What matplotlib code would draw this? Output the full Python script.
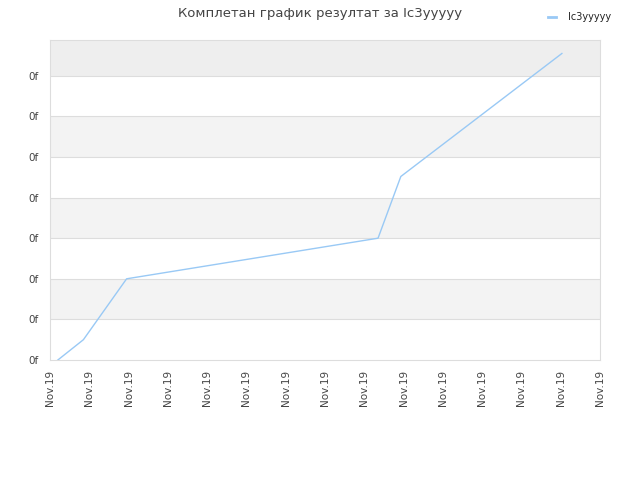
import matplotlib
matplotlib.use("Agg")
import matplotlib.pyplot as plt
from matplotlib.ticker import FixedLocator, FixedFormatter

# données
days = [0.2, 0.85, 1.95, 8.35, 8.93, 13.03]
scores = [0.0, 0.5, 2.0, 3.0, 4.52, 7.55]
x_ticks = list(range(15))
x_labels = ["Nov.19"] * 15
y_ticks = list(range(8))
y_labels = ["0f"] * 8
series_name = "Ic3yyyyy"
title = "Комплетан график резултат за Ic3yyyyy"

plt.rcParams["font.family"] = ["DejaVu Sans"]

fig = plt.figure(figsize=(6.4, 4.8), dpi=100)
ax = fig.add_axes([50 / 640, 120 / 480, 550 / 640, 320 / 480])

y_top = 320 / 40.6
ax.set_xlim(0, 14)
ax.set_ylim(0, y_top)

# bandes alternées
for i in range(8):
    top = min(i + 1, y_top)
    if i == 7:
        ax.axhspan(i, top, color="#eeeeee", zorder=0, lw=0)
    elif i % 2 == 1:
        ax.axhspan(i, top, color="#f3f3f3", zorder=0, lw=0)
for v in y_ticks[1:]:
    ax.axhline(v, color="#dddddd", lw=0.8, zorder=1)

ax.plot(days, scores, color="#99c9f5", lw=1.0, zorder=3, label=series_name)

for s in ax.spines.values():
    s.set_color("#dddddd")
    s.set_linewidth(0.8)

ax.xaxis.set_major_locator(FixedLocator(x_ticks))
ax.xaxis.set_major_formatter(FixedFormatter(x_labels))
ax.yaxis.set_major_locator(FixedLocator(y_ticks))
ax.yaxis.set_major_formatter(FixedFormatter(y_labels))
ax.tick_params(axis="x", labelrotation=90, length=0, labelsize=7.5, colors="#444444", pad=7)
ax.tick_params(axis="y", length=0, labelsize=7.5, colors="#444444", pad=8)

fig.text(0.5, 1 - 13 / 480, title, ha="center", va="center", fontsize=9.5, color="#444444")
leg = fig.legend(loc="upper right", bbox_to_anchor=(0.968, 0.993), frameon=False,
                 fontsize=7, handlelength=0.8, handletextpad=1.2, labelcolor="#222222")
for h in leg.get_lines():
    h.set_linewidth(2)

fig.savefig("out.png", dpi=100)
